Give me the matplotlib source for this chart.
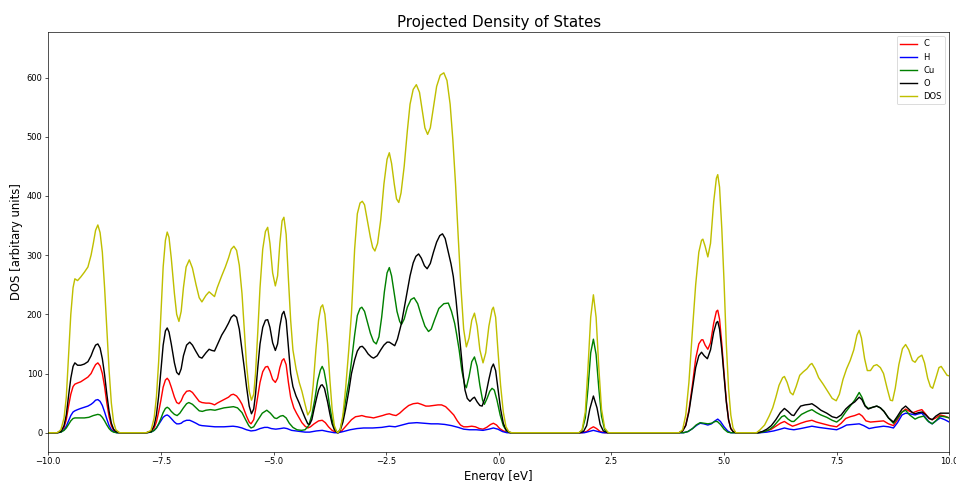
import matplotlib
matplotlib.use('Agg')
from matplotlib import pyplot as plt

# (energy [eV], dos) pairs
c_pts = [(-10, 0), (-9.8, 0), (-9.72, 2), (-9.65, 9), (-9.6, 22), (-9.55, 45), (-9.5, 65), (-9.45, 78), (-9.41, 82),
         (-9.35, 84), (-9.28, 86), (-9.2, 90), (-9.12, 94), (-9.05, 100), (-9.0, 108), (-8.95, 115), (-8.9, 118),
         (-8.85, 113), (-8.8, 100), (-8.75, 78), (-8.7, 50), (-8.65, 27), (-8.6, 12), (-8.55, 4), (-8.5, 1), (-8.42, 0),
         (-7.82, 0), (-7.72, 2), (-7.65, 8), (-7.6, 18), (-7.55, 35), (-7.5, 55), (-7.45, 77), (-7.4, 89), (-7.36, 92),
         (-7.32, 88), (-7.27, 77), (-7.2, 60), (-7.15, 51), (-7.1, 49), (-7.05, 54), (-7.0, 63), (-6.93, 70), (-6.86, 71),
         (-6.8, 68), (-6.72, 60), (-6.65, 53), (-6.59, 51), (-6.5, 50), (-6.43, 50), (-6.37, 49), (-6.31, 47), (-6.25, 50),
         (-6.15, 54), (-6.07, 57), (-6.0, 60), (-5.94, 64), (-5.89, 65), (-5.82, 62), (-5.76, 56), (-5.7, 48), (-5.65, 38),
         (-5.6, 28), (-5.54, 18), (-5.5, 15), (-5.44, 22), (-5.4, 38), (-5.35, 62), (-5.3, 85), (-5.24, 103), (-5.18, 111),
         (-5.13, 112), (-5.08, 104), (-5.02, 90), (-4.96, 85), (-4.91, 92), (-4.86, 110), (-4.81, 122), (-4.77, 125),
         (-4.72, 115), (-4.67, 85), (-4.62, 60), (-4.55, 42), (-4.49, 33), (-4.43, 25), (-4.37, 17), (-4.3, 11), (-4.24, 8),
         (-4.18, 10), (-4.1, 15), (-4.0, 20), (-3.92, 21), (-3.85, 17), (-3.78, 10), (-3.7, 4), (-3.62, 1), (-3.57, 0),
         (-3.5, 2), (-3.43, 8), (-3.35, 15), (-3.27, 22), (-3.18, 27), (-3.1, 28), (-3.04, 29), (-2.95, 27), (-2.85, 26),
         (-2.78, 25), (-2.68, 27), (-2.58, 29), (-2.5, 31), (-2.43, 32), (-2.35, 30), (-2.28, 29), (-2.2, 33), (-2.1, 40),
         (-2.0, 46), (-1.9, 49), (-1.8, 50), (-1.72, 48), (-1.62, 45), (-1.55, 45), (-1.45, 46), (-1.35, 47), (-1.27, 47),
         (-1.18, 44), (-1.1, 38), (-1.0, 30), (-0.92, 20), (-0.85, 13), (-0.78, 10), (-0.7, 10), (-0.6, 11), (-0.52, 10),
         (-0.43, 7), (-0.35, 6), (-0.27, 9), (-0.18, 14), (-0.12, 16), (-0.05, 13), (0.02, 7), (0.1, 3), (0.18, 1), (0.25, 0),
         (1.85, 0), (1.95, 2), (2.03, 7), (2.1, 10), (2.17, 7), (2.25, 2), (2.35, 0),
         (4.0, 0), (4.08, 3), (4.15, 13), (4.22, 38), (4.3, 82), (4.37, 125), (4.44, 150), (4.5, 157), (4.53, 157),
         (4.58, 148), (4.64, 141), (4.7, 152), (4.77, 185), (4.83, 205), (4.86, 207), (4.9, 192), (4.95, 150), (5.0, 100),
         (5.05, 55), (5.1, 22), (5.15, 7), (5.2, 2), (5.26, 0),
         (5.75, 0), (5.85, 1), (5.95, 3), (6.05, 6), (6.15, 11), (6.25, 16), (6.34, 19), (6.42, 15), (6.52, 11), (6.6, 13),
         (6.7, 16), (6.82, 19), (6.95, 21), (7.05, 18), (7.2, 15), (7.35, 12), (7.5, 10), (7.6, 16), (7.7, 24), (7.8, 27),
         (7.9, 29), (8.0, 32), (8.07, 28), (8.15, 20), (8.25, 18), (8.4, 19), (8.54, 20), (8.65, 15), (8.76, 12), (8.85, 22),
         (8.95, 35), (9.03, 40), (9.12, 36), (9.2, 34), (9.3, 37), (9.39, 39), (9.47, 32), (9.55, 24), (9.62, 22), (9.7, 25),
         (9.8, 30), (9.9, 28), (10.0, 25)]

h_pts = [(-10, 0), (-9.8, 0), (-9.72, 1), (-9.65, 5), (-9.6, 11), (-9.55, 20), (-9.5, 29), (-9.45, 35), (-9.41, 37),
         (-9.35, 39), (-9.28, 41), (-9.2, 43), (-9.12, 45), (-9.05, 48), (-9.0, 51), (-8.95, 55), (-8.9, 56), (-8.85, 53),
         (-8.8, 46), (-8.75, 35), (-8.7, 23), (-8.65, 12), (-8.6, 5), (-8.55, 2), (-8.48, 0),
         (-7.82, 0), (-7.72, 1), (-7.65, 4), (-7.6, 8), (-7.55, 14), (-7.5, 20), (-7.45, 26), (-7.4, 29), (-7.36, 30),
         (-7.32, 28), (-7.27, 24), (-7.2, 18), (-7.15, 15), (-7.1, 15), (-7.05, 16), (-7.0, 19), (-6.93, 21), (-6.86, 21),
         (-6.8, 19), (-6.72, 16), (-6.65, 13), (-6.59, 12), (-6.45, 11), (-6.3, 10), (-6.1, 10), (-5.9, 11), (-5.8, 10),
         (-5.7, 8), (-5.6, 5), (-5.5, 3), (-5.4, 4), (-5.3, 7), (-5.2, 9), (-5.13, 9), (-5.05, 7), (-4.95, 6), (-4.85, 7),
         (-4.77, 8), (-4.7, 7), (-4.6, 4), (-4.5, 3), (-4.4, 2), (-4.3, 1), (-4.2, 1), (-4.05, 3), (-3.92, 4), (-3.8, 2),
         (-3.65, 0), (-3.57, 0), (-3.45, 2), (-3.3, 5), (-3.15, 7), (-3.0, 8), (-2.8, 8), (-2.6, 9), (-2.43, 11), (-2.3, 10),
         (-2.15, 13), (-2.0, 16), (-1.82, 17), (-1.65, 16), (-1.5, 15), (-1.35, 15), (-1.2, 14), (-1.05, 12), (-0.9, 9),
         (-0.78, 6), (-0.65, 5), (-0.5, 5), (-0.35, 4), (-0.22, 6), (-0.12, 8), (-0.02, 6), (0.08, 2), (0.18, 0),
         (1.9, 0), (2.0, 2), (2.1, 4), (2.2, 2), (2.3, 0),
         (4.1, 0), (4.2, 2), (4.3, 7), (4.4, 13), (4.47, 16), (4.55, 15), (4.64, 13), (4.72, 15), (4.8, 20), (4.86, 23),
         (4.92, 19), (5.0, 10), (5.08, 3), (5.15, 0),
         (5.8, 0), (5.95, 1), (6.1, 3), (6.25, 6), (6.34, 8), (6.45, 6), (6.55, 5), (6.7, 7), (6.95, 11), (7.1, 9), (7.3, 7),
         (7.5, 5), (7.62, 9), (7.72, 13), (7.85, 14), (8.0, 15), (8.1, 12), (8.22, 7), (8.35, 9), (8.54, 11), (8.65, 10),
         (8.76, 8), (8.85, 17), (8.95, 30), (9.03, 33), (9.12, 32), (9.24, 30), (9.32, 32), (9.39, 33), (9.47, 26),
         (9.55, 18), (9.62, 15), (9.72, 21), (9.8, 25), (9.9, 22), (10.0, 18)]

cu_pts = [(-10, 0), (-9.8, 0), (-9.72, 1), (-9.65, 4), (-9.6, 8), (-9.55, 14), (-9.5, 20), (-9.45, 24), (-9.41, 25),
          (-9.3, 25), (-9.2, 25), (-9.1, 26), (-9.0, 29), (-8.9, 31), (-8.85, 30), (-8.8, 26), (-8.75, 20), (-8.7, 13),
          (-8.65, 7), (-8.6, 3), (-8.55, 1), (-8.48, 0),
          (-7.82, 0), (-7.72, 1), (-7.65, 4), (-7.6, 8), (-7.55, 15), (-7.5, 24), (-7.45, 34), (-7.4, 41), (-7.36, 43),
          (-7.32, 41), (-7.27, 36), (-7.2, 31), (-7.14, 29), (-7.08, 33), (-7.0, 42), (-6.93, 49), (-6.88, 51), (-6.8, 48),
          (-6.72, 42), (-6.65, 37), (-6.58, 36), (-6.5, 38), (-6.4, 39), (-6.3, 38), (-6.2, 40), (-6.1, 42), (-6.0, 43),
          (-5.89, 44), (-5.8, 42), (-5.7, 34), (-5.62, 22), (-5.55, 12), (-5.5, 8), (-5.44, 10), (-5.36, 20), (-5.25, 33),
          (-5.15, 38), (-5.07, 33), (-4.98, 25), (-4.93, 24), (-4.85, 28), (-4.79, 29), (-4.72, 25), (-4.65, 16),
          (-4.57, 9), (-4.48, 5), (-4.38, 4), (-4.3, 5), (-4.22, 12), (-4.15, 30), (-4.08, 58), (-4.02, 88), (-3.96, 106),
          (-3.92, 112), (-3.88, 105), (-3.82, 80), (-3.76, 48), (-3.7, 22), (-3.65, 8), (-3.6, 2), (-3.57, 0), (-3.52, 6),
          (-3.46, 25), (-3.4, 55), (-3.33, 85), (-3.27, 120), (-3.2, 165), (-3.14, 198), (-3.08, 210), (-3.04, 212),
          (-2.98, 205), (-2.92, 188), (-2.85, 168), (-2.78, 154), (-2.72, 150), (-2.66, 162), (-2.6, 195), (-2.54, 238),
          (-2.48, 270), (-2.43, 279), (-2.38, 265), (-2.32, 235), (-2.26, 205), (-2.2, 188), (-2.16, 183), (-2.1, 192),
          (-2.03, 212), (-1.95, 225), (-1.88, 228), (-1.8, 218), (-1.72, 198), (-1.64, 180), (-1.56, 171), (-1.5, 175),
          (-1.42, 192), (-1.33, 210), (-1.22, 218), (-1.12, 219), (-1.05, 205), (-0.98, 185), (-0.94, 168), (-0.88, 140),
          (-0.82, 105), (-0.76, 82), (-0.72, 76), (-0.66, 95), (-0.6, 120), (-0.54, 128), (-0.48, 112), (-0.42, 80),
          (-0.36, 55), (-0.32, 48), (-0.26, 58), (-0.2, 70), (-0.15, 75), (-0.1, 72), (-0.04, 55), (0.03, 30), (0.1, 12),
          (0.17, 3), (0.25, 0),
          (1.78, 0), (1.85, 4), (1.92, 25), (1.98, 75), (2.04, 135), (2.1, 158), (2.16, 132), (2.22, 75), (2.28, 28),
          (2.35, 5), (2.43, 0),
          (4.1, 0), (4.2, 2), (4.3, 7), (4.38, 13), (4.47, 17), (4.55, 16), (4.64, 15), (4.72, 16), (4.8, 19), (4.85, 19),
          (4.92, 14), (5.0, 6), (5.08, 1), (5.15, 0),
          (5.78, 0), (5.9, 2), (6.0, 5), (6.1, 11), (6.2, 20), (6.28, 27), (6.34, 29), (6.42, 23), (6.5, 19), (6.55, 19),
          (6.62, 24), (6.72, 31), (6.85, 36), (6.95, 39), (7.05, 34), (7.15, 30), (7.28, 26), (7.4, 21), (7.5, 18),
          (7.6, 24), (7.7, 35), (7.8, 45), (7.9, 55), (8.0, 68), (8.06, 60), (8.13, 46), (8.2, 41), (8.3, 43), (8.39, 45),
          (8.47, 42), (8.55, 36), (8.65, 25), (8.76, 16), (8.85, 25), (8.95, 35), (9.03, 38), (9.12, 30), (9.24, 23),
          (9.32, 26), (9.43, 28), (9.52, 20), (9.62, 15), (9.7, 20), (9.8, 28), (9.9, 27), (10.0, 25)]

o_pts = [(-10, 0), (-9.8, 0), (-9.72, 2), (-9.65, 12), (-9.6, 30), (-9.55, 62), (-9.5, 92), (-9.45, 112), (-9.41, 118),
         (-9.35, 114), (-9.28, 114), (-9.2, 116), (-9.12, 120), (-9.05, 130), (-9.0, 140), (-8.95, 148), (-8.9, 150),
         (-8.85, 143), (-8.8, 125), (-8.75, 98), (-8.7, 65), (-8.65, 36), (-8.6, 16), (-8.55, 6), (-8.5, 2), (-8.42, 0),
         (-7.82, 0), (-7.72, 2), (-7.65, 12), (-7.6, 30), (-7.55, 62), (-7.5, 105), (-7.45, 148), (-7.4, 172), (-7.36, 177),
         (-7.32, 170), (-7.27, 150), (-7.2, 118), (-7.15, 102), (-7.1, 98), (-7.05, 108), (-7.0, 130), (-6.93, 148),
         (-6.86, 153), (-6.8, 148), (-6.72, 137), (-6.65, 128), (-6.59, 126), (-6.5, 135), (-6.43, 141), (-6.37, 139),
         (-6.31, 138), (-6.25, 148), (-6.15, 165), (-6.07, 175), (-6.0, 185), (-5.94, 195), (-5.88, 199), (-5.82, 195),
         (-5.76, 175), (-5.7, 140), (-5.65, 110), (-5.6, 78), (-5.54, 45), (-5.49, 32), (-5.44, 40), (-5.4, 65),
         (-5.35, 110), (-5.3, 150), (-5.24, 178), (-5.18, 190), (-5.13, 191), (-5.08, 178), (-5.02, 152), (-4.96, 139),
         (-4.91, 150), (-4.86, 180), (-4.81, 200), (-4.77, 205), (-4.72, 190), (-4.67, 145), (-4.62, 100), (-4.57, 78),
         (-4.5, 62), (-4.43, 50), (-4.37, 38), (-4.3, 25), (-4.24, 15), (-4.2, 14), (-4.15, 22), (-4.1, 40), (-4.04, 60),
         (-4.0, 72), (-3.95, 80), (-3.92, 81), (-3.87, 75), (-3.8, 52), (-3.75, 32), (-3.7, 15), (-3.65, 5), (-3.6, 1),
         (-3.57, 0), (-3.52, 4), (-3.46, 18), (-3.4, 40), (-3.33, 70), (-3.27, 100), (-3.2, 123), (-3.14, 138),
         (-3.08, 145), (-3.03, 146), (-2.97, 141), (-2.9, 133), (-2.83, 128), (-2.78, 126), (-2.7, 130), (-2.62, 140),
         (-2.55, 148), (-2.48, 153), (-2.43, 153), (-2.37, 150), (-2.31, 147), (-2.25, 158), (-2.16, 185), (-2.1, 210),
         (-2.04, 236), (-1.97, 265), (-1.9, 287), (-1.84, 298), (-1.78, 302), (-1.72, 295), (-1.65, 282), (-1.59, 277),
         (-1.52, 286), (-1.45, 305), (-1.38, 322), (-1.31, 333), (-1.25, 336), (-1.19, 328), (-1.12, 305), (-1.06, 285),
         (-1.01, 264), (-0.95, 225), (-0.9, 185), (-0.86, 152), (-0.8, 105), (-0.75, 72), (-0.7, 58), (-0.64, 53),
         (-0.58, 58), (-0.54, 60), (-0.48, 52), (-0.42, 46), (-0.37, 45), (-0.3, 60), (-0.22, 90), (-0.16, 110),
         (-0.12, 116), (-0.07, 105), (-0.02, 75), (0.04, 40), (0.1, 16), (0.16, 5), (0.22, 1), (0.28, 0),
         (1.8, 0), (1.88, 2), (1.95, 12), (2.02, 40), (2.1, 62), (2.18, 42), (2.25, 14), (2.32, 3), (2.42, 0),
         (4.0, 0), (4.08, 3), (4.15, 12), (4.22, 35), (4.3, 75), (4.37, 110), (4.44, 130), (4.5, 136), (4.56, 130),
         (4.63, 125), (4.7, 140), (4.77, 170), (4.83, 186), (4.86, 188), (4.9, 175), (4.95, 140), (5.0, 95), (5.05, 52),
         (5.1, 22), (5.15, 7), (5.2, 2), (5.26, 0),
         (5.75, 0), (5.85, 2), (5.95, 6), (6.05, 12), (6.15, 22), (6.25, 34), (6.34, 41), (6.42, 36), (6.5, 30),
         (6.55, 29), (6.62, 37), (6.7, 45), (6.8, 47), (6.9, 48), (6.95, 49), (7.05, 44), (7.15, 38), (7.28, 33),
         (7.4, 27), (7.5, 25), (7.6, 30), (7.7, 40), (7.8, 47), (7.9, 52), (8.0, 60), (8.06, 56), (8.13, 45), (8.2, 40),
         (8.3, 43), (8.39, 45), (8.47, 42), (8.55, 36), (8.65, 25), (8.76, 18), (8.85, 28), (8.95, 40), (9.03, 45),
         (9.1, 40), (9.18, 34), (9.24, 32), (9.32, 34), (9.4, 35), (9.48, 30), (9.56, 24), (9.62, 22), (9.7, 28),
         (9.8, 33), (9.9, 33), (10.0, 33)]

dos_pts = [(-10.0, 0), (-9.8, 0), (-9.72, 5), (-9.65, 25), (-9.6, 60), (-9.55, 130), (-9.5, 200), (-9.45, 245),
           (-9.41, 260), (-9.35, 257), (-9.28, 263), (-9.2, 271), (-9.12, 280), (-9.05, 300), (-9.0, 320), (-8.95, 342),
           (-8.9, 351), (-8.85, 338), (-8.8, 305), (-8.75, 245), (-8.7, 175), (-8.65, 105), (-8.6, 50), (-8.55, 18),
           (-8.5, 5), (-8.42, 0),
           (-7.82, 0), (-7.72, 4), (-7.65, 25), (-7.6, 60), (-7.55, 120), (-7.5, 200), (-7.45, 280), (-7.4, 325),
           (-7.36, 339), (-7.32, 330), (-7.27, 295), (-7.2, 235), (-7.15, 200), (-7.1, 188), (-7.05, 205), (-7.0, 245),
           (-6.94, 280), (-6.87, 292), (-6.8, 278), (-6.72, 250), (-6.65, 228), (-6.59, 221), (-6.5, 232), (-6.43, 238),
           (-6.37, 234), (-6.31, 230), (-6.25, 245), (-6.15, 265), (-6.07, 280), (-6.0, 295), (-5.94, 310), (-5.88, 315),
           (-5.82, 308), (-5.76, 283), (-5.7, 235), (-5.65, 175), (-5.6, 115), (-5.54, 70), (-5.49, 55), (-5.44, 65),
           (-5.4, 100), (-5.35, 170), (-5.3, 245), (-5.24, 310), (-5.18, 340), (-5.13, 347), (-5.08, 320), (-5.02, 270),
           (-4.96, 248), (-4.91, 265), (-4.86, 320), (-4.81, 358), (-4.77, 364), (-4.72, 335), (-4.67, 260), (-4.62, 190),
           (-4.57, 140), (-4.5, 108), (-4.43, 85), (-4.37, 70), (-4.3, 48), (-4.24, 30), (-4.18, 38), (-4.12, 80),
           (-4.06, 140), (-4.0, 190), (-3.95, 212), (-3.91, 216), (-3.86, 200), (-3.8, 150), (-3.75, 90), (-3.7, 40),
           (-3.65, 12), (-3.6, 2), (-3.57, 0), (-3.52, 5), (-3.46, 30), (-3.4, 75), (-3.33, 140), (-3.27, 202),
           (-3.2, 310), (-3.14, 370), (-3.08, 388), (-3.03, 391), (-2.98, 385), (-2.92, 360), (-2.85, 330), (-2.8, 313),
           (-2.75, 307), (-2.69, 320), (-2.62, 360), (-2.55, 420), (-2.48, 462), (-2.43, 473), (-2.38, 455), (-2.32, 420),
           (-2.27, 395), (-2.22, 389), (-2.17, 405), (-2.1, 450), (-2.03, 510), (-1.97, 555), (-1.9, 580), (-1.83, 588),
           (-1.76, 575), (-1.7, 545), (-1.64, 515), (-1.58, 504), (-1.52, 515), (-1.45, 550), (-1.38, 585), (-1.3, 604),
           (-1.22, 608), (-1.15, 595), (-1.08, 555), (-1.02, 495), (-0.96, 420), (-0.9, 330), (-0.84, 245), (-0.78, 175),
           (-0.72, 145), (-0.66, 160), (-0.6, 190), (-0.54, 202), (-0.48, 180), (-0.42, 140), (-0.35, 118), (-0.29, 135),
           (-0.22, 180), (-0.15, 208), (-0.12, 212), (-0.07, 195), (-0.02, 140), (0.04, 80), (0.1, 35), (0.16, 10),
           (0.22, 2), (0.28, 0),
           (1.78, 0), (1.85, 5), (1.92, 35), (1.98, 110), (2.04, 195), (2.1, 233), (2.16, 195), (2.22, 110), (2.28, 40),
           (2.35, 8), (2.43, 0),
           (4.0, 0), (4.08, 5), (4.15, 30), (4.22, 85), (4.3, 175), (4.37, 250), (4.44, 305), (4.5, 325), (4.53, 327),
           (4.58, 315), (4.64, 297), (4.7, 320), (4.77, 390), (4.83, 430), (4.86, 436), (4.9, 415), (4.95, 345),
           (5.0, 255), (5.05, 150), (5.1, 75), (5.15, 30), (5.2, 8), (5.26, 0),
           (5.72, 0), (5.8, 5), (5.9, 13), (6.0, 28), (6.08, 42), (6.15, 60), (6.22, 80), (6.3, 93), (6.34, 95),
           (6.4, 85), (6.47, 68), (6.53, 64), (6.6, 78), (6.68, 97), (6.76, 103), (6.84, 108), (6.91, 115), (6.95, 117),
           (7.02, 108), (7.1, 93), (7.2, 82), (7.3, 70), (7.4, 58), (7.49, 54), (7.56, 65), (7.64, 90), (7.72, 108),
           (7.8, 122), (7.88, 140), (7.95, 165), (8.0, 173), (8.05, 160), (8.12, 125), (8.18, 105), (8.25, 105),
           (8.32, 113), (8.39, 115), (8.47, 110), (8.54, 100), (8.62, 75), (8.69, 55), (8.74, 54), (8.8, 75), (8.88, 115),
           (8.96, 142), (9.03, 149), (9.1, 140), (9.18, 122), (9.24, 119), (9.31, 127), (9.39, 131), (9.45, 118),
           (9.52, 92), (9.58, 78), (9.63, 75), (9.7, 92), (9.77, 110), (9.82, 112), (9.88, 105), (9.95, 97), (10.0, 96)]

labels = ['C', 'H', 'Cu', 'O', 'DOS']
colors = ['r', 'b', 'g', 'k', 'y']
x_ticks = [-10.0, -7.5, -5.0, -2.5, 0.0, 2.5, 5.0, 7.5, 10.0]
y_ticks = [0, 100, 200, 300, 400, 500, 600]

fig = plt.figure(figsize=(956 / 60, 481 / 60), dpi=60)
ax = fig.add_axes([0.0505, 0.061, 0.9425, 0.8725])

for pts, lab, col in zip([c_pts, h_pts, cu_pts, o_pts, dos_pts], labels, colors):
	e, d = zip(*pts)
	ax.plot(e, d, color=col, label=lab, linewidth=1.7)

ax.set_xlim(-10, 10)
ax.set_ylim(-32, 677)
ax.set_xticks(x_ticks)
ax.set_yticks(y_ticks)
ax.set_title("Projected Density of States", fontsize=18)
ax.set_xlabel("Energy [eV]", fontsize=14)
ax.set_ylabel("DOS [arbitary units]", fontsize=14)
ax.legend(loc='upper right')

fig.savefig('out.png', dpi=60)
